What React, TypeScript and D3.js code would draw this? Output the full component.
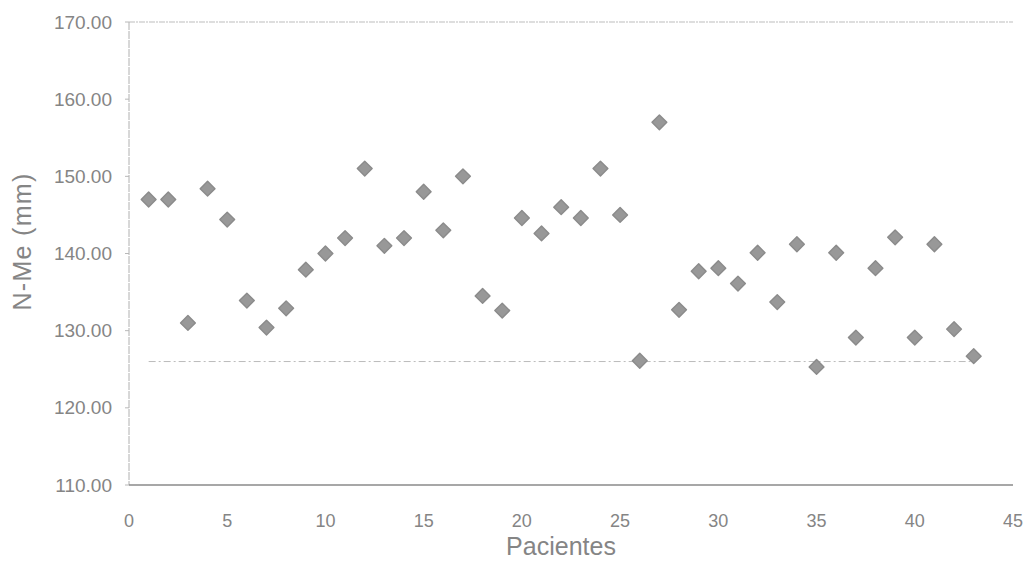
import React from "react";
import * as d3 from "d3";

// N-Me measurement (mm) for each patient, in order 1..43
const patients: number[] = Array.from({ length: 43 }, (_, i) => i + 1);
const nMeValues: number[] = [
  147.0, 147.0, 131.0, 148.4, 144.4, 133.9, 130.4, 132.9, 137.9, 140.0,
  142.0, 151.0, 141.0, 142.0, 148.0, 143.0, 150.0, 134.5, 132.6, 144.6,
  142.6, 146.0, 144.6, 151.0, 145.0, 126.1, 157.0, 132.7, 137.7, 138.1,
  136.1, 140.1, 133.7, 141.2, 125.3, 140.1, 129.1, 138.1, 142.1, 129.1,
  141.2, 130.2, 126.7,
];

// Reference level drawn across the patients
const refLevel = 126;
const refFrom = 1;
const refTo = 43;

const xTicks: number[] = [0, 5, 10, 15, 20, 25, 30, 35, 40, 45];
const yTicks: number[] = [110, 120, 130, 140, 150, 160, 170];

const W = 1028;
const H = 562;
const margin = { left: 129, right: 15, top: 22, bottom: 77 };

export default function App() {
  const x = d3.scaleLinear().domain([0, 45]).range([margin.left, W - margin.right]);
  const y = d3.scaleLinear().domain([110, 170]).range([H - margin.bottom, margin.top]);

  const diamond = d3.symbol().type(d3.symbolDiamond2).size(140);
  const diamondPath = diamond() as string;

  const fontFamily = "'Liberation Sans', Arial, sans-serif";
  const textColor = "#858585";

  return (
    <svg
      width={W}
      height={H}
      style={{ position: "fixed", left: 0, top: 0, background: "#fff" }}
      fontFamily={fontFamily}
    >
      {/* plot frame: faint top and left, darker baseline */}
      <line x1={x(0)} x2={x(45)} y1={y(170)} y2={y(170)} stroke="#bdbdbd" strokeWidth={1} strokeDasharray="6 1 2 1" />
      <line x1={x(0)} x2={x(0)} y1={y(170)} y2={y(110)} stroke="#b0b0b0" strokeWidth={1} strokeDasharray="8 1" />
      <line x1={x(0)} x2={x(45)} y1={y(110)} y2={y(110)} stroke="#8a8a8a" strokeWidth={1.5} />

      {/* y ticks and labels */}
      {yTicks.map((t) => (
        <g key={t}>
          <line x1={x(0) - 4} x2={x(0)} y1={y(t)} y2={y(t)} stroke="#b8b8b8" />
          <text
            x={x(0) - 17}
            y={y(t)}
            dy="0.35em"
            textAnchor="end"
            fontSize={19}
            fill={textColor}
          >
            {t.toFixed(2)}
          </text>
        </g>
      ))}

      {/* x tick labels */}
      {xTicks.map((t) => (
        <text key={t} x={x(t)} y={y(110) + 42} textAnchor="middle" fontSize={18} fill={textColor}>
          {t}
        </text>
      ))}

      {/* axis titles */}
      <text x={(x(0) + x(45)) / 2 - 10} y={H - 7} textAnchor="middle" fontSize={25} fill={textColor}>
        Pacientes
      </text>
      <text
        transform={`translate(31, ${(y(110) + y(170)) / 2 - 12}) rotate(-90)`}
        textAnchor="middle"
        fontSize={25}
        letterSpacing={1.3}
        fill={textColor}
      >
        N-Me (mm)
      </text>

      {/* reference level */}
      <line
        x1={x(refFrom)}
        x2={x(refTo)}
        y1={y(refLevel)}
        y2={y(refLevel)}
        stroke="#bbbbbb"
        strokeWidth={1}
        strokeDasharray="7 3 2 3"
      />

      {/* patient measurements */}
      {nMeValues.map((v, i) => (
        <path
          key={i}
          d={diamondPath}
          transform={`translate(${x(patients[i])}, ${y(v)})`}
          fill="#989898"
          stroke="#8b8b8b"
          strokeWidth={1.4}
          strokeLinejoin="round"
        />
      ))}
    </svg>
  );
}
